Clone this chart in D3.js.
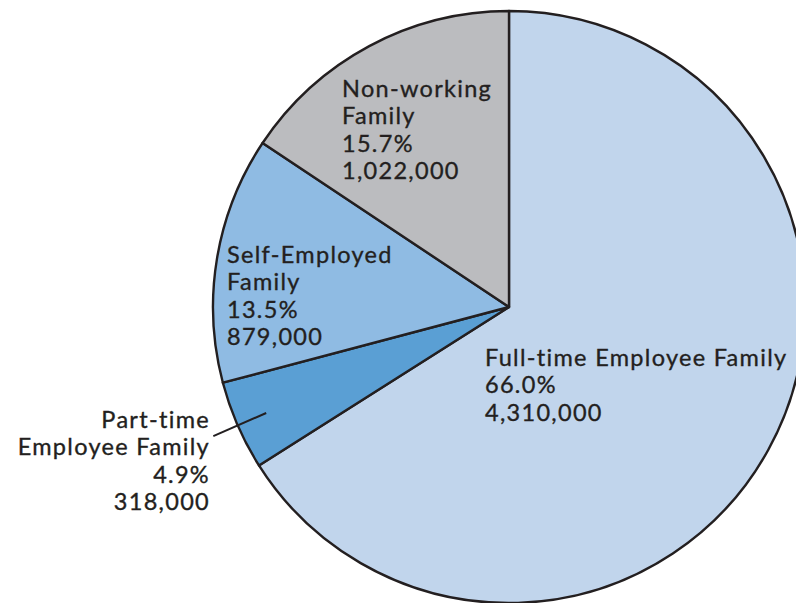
<!DOCTYPE html>
<html>
<head>
<meta charset="utf-8">
<script src="https://cdn.jsdelivr.net/npm/d3@7/dist/d3.min.js"></script>
<style>
  html, body { margin: 0; padding: 0; background: #ffffff; }
  svg { display: block; }
  text { font-family: Lato, "Open Sans", sans-serif; fill: #231f20; stroke: #231f20; stroke-width: 0.35px; }
</style>
</head>
<body>
<svg id="chart" width="796" height="603"></svg>
<script>
// Family types, counts and the printed shares
const categories = [
  ["Full-time Employee Family"],
  ["Part-time", "Employee Family"],
  ["Self-Employed", "Family"],
  ["Non-working", "Family"]
];
const families = [4310000, 318000, 879000, 1022000];
const shareLabels = ["66.0%", "4.9%", "13.5%", "15.7%"];
const countLabels = ["4,310,000", "318,000", "879,000", "1,022,000"];
const colors = ["#c1d5ec", "#5a9fd4", "#8fbbe3", "#bbbcbf"];

const W = 796, H = 603;
const cx = 509, cy = 307, R = 296;
const lineH = 27.3;

// Label placement relative to the pie centre: [dx, dy, anchor]
const labelPlacement = [
  [-24, 59, "start"],
  [-299, 121, "end"],
  [-282, -44, "start"],
  [-167, -210, "start"]
];

const svg = d3.select("#chart");
const g = svg.append("g").attr("transform", `translate(${cx},${cy})`);

const pie = d3.pie().sort(null).value(d => d);
const arcs = pie(families);
const arc = d3.arc().innerRadius(0).outerRadius(R);

g.selectAll("path.slice")
  .data(arcs)
  .join("path")
  .attr("class", "slice")
  .attr("d", arc)
  .attr("fill", (d, i) => colors[i])
  .attr("stroke", "#231f20")
  .attr("stroke-width", 2.4)
  .attr("stroke-linejoin", "round");

// Leader line for the narrow part-time slice
const pt = arcs[1];
const mid = (pt.startAngle + pt.endAngle) / 2;
const lead = [R * 0.895, R * 1.09].map(r => [r * Math.sin(mid), -r * Math.cos(mid)]);
g.append("line")
  .attr("x1", lead[0][0]).attr("y1", lead[0][1])
  .attr("x2", lead[1][0]).attr("y2", lead[1][1])
  .attr("stroke", "#231f20")
  .attr("stroke-width", 2);

const labels = g.selectAll("text.lbl")
  .data(arcs)
  .join("text")
  .attr("class", "lbl")
  .attr("x", (d, i) => labelPlacement[i][0])
  .attr("y", (d, i) => labelPlacement[i][1])
  .attr("text-anchor", (d, i) => labelPlacement[i][2])
  .style("font-size", "23.5px")
  .style("letter-spacing", "1.3px");

labels.each(function(d, i) {
  const lines = [...categories[i], shareLabels[i], countLabels[i]];
  d3.select(this).selectAll("tspan")
    .data(lines)
    .join("tspan")
    .attr("x", labelPlacement[i][0])
    .attr("dy", (t, k) => k === 0 ? 0 : lineH)
    .text(t => t);
});
</script>
</body>
</html>
